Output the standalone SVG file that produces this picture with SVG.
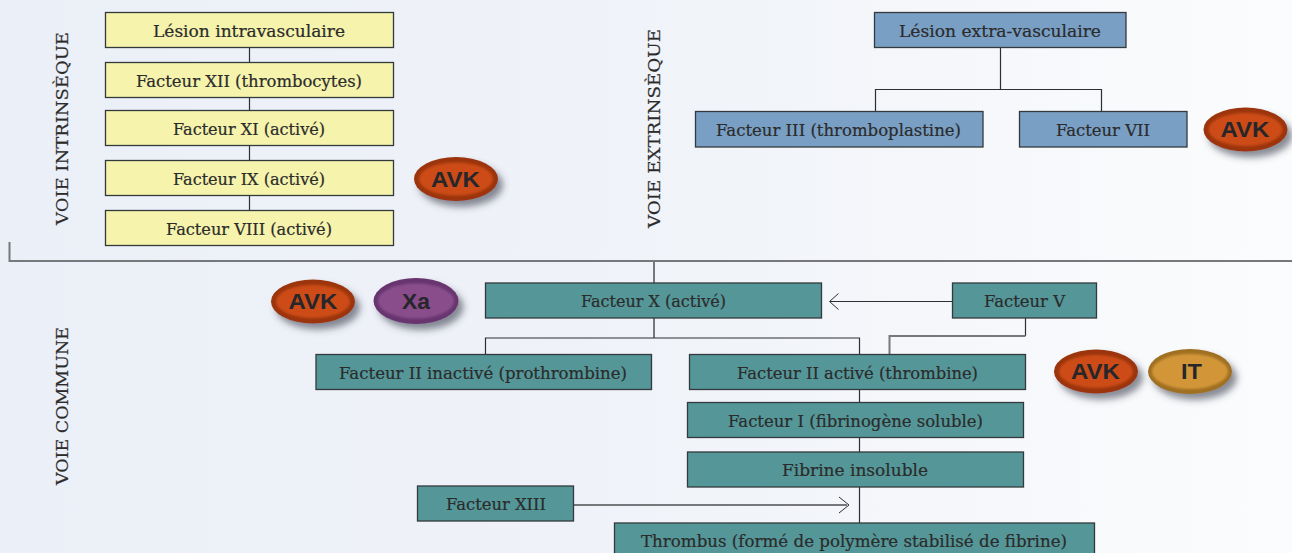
<svg xmlns="http://www.w3.org/2000/svg" width="1292" height="553" viewBox="0 0 1292 553">
<style>
.t{font-family:"DejaVu Serif","Liberation Serif",serif;font-size:16px;fill:#2b2b2b;stroke:#2b2b2b;stroke-width:0.2;text-anchor:middle;dominant-baseline:central}
.v{font-size:17.5px}
.b{stroke:#33393c;stroke-width:1.3}
.y{fill:#f5f3ac}.u{fill:#799fc5}.g{fill:#559798}
.c{fill:none;stroke:#2d2f33;stroke-width:1.2}
.a{fill:none;stroke:#2d2f33;stroke-width:1}
.h{fill:none;stroke:#77787c;stroke-width:2}
.l{font-family:"Liberation Sans",sans-serif;font-weight:700;font-size:22px;fill:#26262b;text-anchor:middle;dominant-baseline:central}
</style>
<defs>
<linearGradient id="bg" x1="0" y1="0" x2="1" y2="0"><stop offset="0" stop-color="#ebeff7"/><stop offset="0.45" stop-color="#eff2f8"/><stop offset="1" stop-color="#fbfcfd"/></linearGradient>
<filter id="s" x="-30%" y="-30%" width="170%" height="190%"><feDropShadow dx="5" dy="6" stdDeviation="3.500" flood-color="#3a4250" flood-opacity="0.6"/></filter>
<filter id="f" x="-10%" y="-10%" width="120%" height="120%"><feGaussianBlur stdDeviation="1"/></filter>
</defs>
<rect width="1292" height="553" fill="url(#bg)"/>
<g id="connectors">
<path class="c" d="M249.500 47V210M1000.500 48V89.500M875.500 111V89.500H1101.500V111"/>
<path class="h" d="M9.500 242V261H1292"/>
<path class="h" d="M654 261V283M654 318V338"/>
<path class="c" d="M485.500 354V338H859.500V354"/>
<path class="c" d="M1025.500 318V336"/><path class="h" d="M1025.500 336H889.500V354"/>
<path class="c" d="M952 301.500H830"/><path class="a" d="M838.500 293.500L829.500 301.500L838.500 309.500"/>
<path class="c" d="M859.500 390V402M859.500 437V452M859.500 487V523"/>
<path class="h" d="M574 505H847"/><path class="a" d="M839 497L849 505L839 513"/>
</g>
<g id="label-intrinseque"><text class="t v" transform="translate(62 128.500) rotate(-90)" textLength="193" lengthAdjust="spacingAndGlyphs">VOIE INTRINSÈQUE</text></g>
<g id="label-extrinseque"><text class="t v" transform="translate(654 128.500) rotate(-90)" textLength="199" lengthAdjust="spacingAndGlyphs">VOIE EXTRINSÈQUE</text></g>
<g id="label-commune"><text class="t v" transform="translate(62 406) rotate(-90)" textLength="158" lengthAdjust="spacingAndGlyphs">VOIE COMMUNE</text></g>
<g id="n1"><rect class="b y" x="105.500" y="12.500" width="288" height="35"/><text class="t" x="249" y="31" textLength="192" lengthAdjust="spacingAndGlyphs">Lésion intravasculaire</text></g>
<g id="n2"><rect class="b y" x="105.500" y="62.500" width="288" height="35"/><text class="t" x="249" y="81" textLength="226" lengthAdjust="spacingAndGlyphs">Facteur XII (thrombocytes)</text></g>
<g id="n3"><rect class="b y" x="105.500" y="110.500" width="288" height="35"/><text class="t" x="249" y="129" textLength="152" lengthAdjust="spacingAndGlyphs">Facteur XI (activé)</text></g>
<g id="n4"><rect class="b y" x="105.500" y="160.500" width="288" height="35"/><text class="t" x="249" y="179" textLength="152" lengthAdjust="spacingAndGlyphs">Facteur IX (activé)</text></g>
<g id="n5"><rect class="b y" x="105.500" y="210.500" width="288" height="35"/><text class="t" x="249" y="229" textLength="166" lengthAdjust="spacingAndGlyphs">Facteur VIII (activé)</text></g>
<g id="n6"><rect class="b u" x="874.500" y="12.500" width="251.500" height="35"/><text class="t" x="1000" y="31" textLength="202" lengthAdjust="spacingAndGlyphs">Lésion extra-vasculaire</text></g>
<g id="n7"><rect class="b u" x="695.500" y="111.500" width="287.500" height="35.500"/><text class="t" x="838.500" y="130" textLength="245" lengthAdjust="spacingAndGlyphs">Facteur III (thromboplastine)</text></g>
<g id="n8"><rect class="b u" x="1019.500" y="111.500" width="167.500" height="35.500"/><text class="t" x="1103" y="130" textLength="94" lengthAdjust="spacingAndGlyphs">Facteur VII</text></g>
<g id="n9"><rect class="b g" x="485.500" y="283" width="336" height="35"/><text class="t" x="653.500" y="301" textLength="145" lengthAdjust="spacingAndGlyphs">Facteur X (activé)</text></g>
<g id="n10"><rect class="b g" x="952.500" y="283" width="144" height="35"/><text class="t" x="1024.500" y="301" textLength="81" lengthAdjust="spacingAndGlyphs">Facteur V</text></g>
<g id="n11"><rect class="b g" x="316" y="354.500" width="335.500" height="35"/><text class="t" x="483" y="373" textLength="288" lengthAdjust="spacingAndGlyphs">Facteur II inactivé (prothrombine)</text></g>
<g id="n12"><rect class="b g" x="689.500" y="354.500" width="336" height="35"/><text class="t" x="857.500" y="373" textLength="241" lengthAdjust="spacingAndGlyphs">Facteur II activé (thrombine)</text></g>
<g id="n13"><rect class="b g" x="687.500" y="402.500" width="336" height="35"/><text class="t" x="855.500" y="421" textLength="255" lengthAdjust="spacingAndGlyphs">Facteur I (fibrinogène soluble)</text></g>
<g id="n14"><rect class="b g" x="687.500" y="452" width="336" height="35"/><text class="t" x="855" y="470" textLength="146" lengthAdjust="spacingAndGlyphs">Fibrine insoluble</text></g>
<g id="n15"><rect class="b g" x="417.500" y="486" width="156" height="35"/><text class="t" x="496" y="504" textLength="100" lengthAdjust="spacingAndGlyphs">Facteur XIII</text></g>
<g id="n16"><rect class="b g" x="614.500" y="523" width="480" height="40"/><text class="t" x="854" y="541" textLength="426" lengthAdjust="spacingAndGlyphs">Thrombus (formé de polymère stabilisé de fibrine)</text></g>
<g id="avk1"><ellipse cx="456" cy="179" rx="42" ry="22" fill="#9c3507" filter="url(#s)"/><ellipse cx="456" cy="179" rx="37" ry="16.500" fill="#cc4c17" filter="url(#f)"/><text class="l" x="455.500" y="179" textLength="49" lengthAdjust="spacingAndGlyphs">AVK</text></g>
<g id="avk2"><ellipse cx="1245.500" cy="129.500" rx="42" ry="22" fill="#9c3507" filter="url(#s)"/><ellipse cx="1245.500" cy="129.500" rx="37" ry="16.500" fill="#cc4c17" filter="url(#f)"/><text class="l" x="1245" y="129.500" textLength="49" lengthAdjust="spacingAndGlyphs">AVK</text></g>
<g id="avk3"><ellipse cx="313" cy="301.500" rx="42" ry="22" fill="#9c3507" filter="url(#s)"/><ellipse cx="313" cy="301.500" rx="37" ry="16.500" fill="#cc4c17" filter="url(#f)"/><text class="l" x="313" y="301.500" textLength="49" lengthAdjust="spacingAndGlyphs">AVK</text></g>
<g id="xa"><ellipse cx="416" cy="301" rx="42.500" ry="23" fill="#67346f" filter="url(#s)"/><ellipse cx="416" cy="301" rx="38" ry="17.500" fill="#894d8c" filter="url(#f)"/><text class="l" x="416" y="301" textLength="28" lengthAdjust="spacingAndGlyphs">Xa</text></g>
<g id="avk4"><ellipse cx="1096" cy="371.500" rx="42" ry="22" fill="#9c3507" filter="url(#s)"/><ellipse cx="1096" cy="371.500" rx="37" ry="16.500" fill="#cc4c17" filter="url(#f)"/><text class="l" x="1095.500" y="371.500" textLength="49" lengthAdjust="spacingAndGlyphs">AVK</text></g>
<g id="it"><ellipse cx="1190" cy="371.500" rx="42" ry="22.500" fill="#a06f20" filter="url(#s)"/><ellipse cx="1190" cy="371.500" rx="38" ry="17.500" fill="#d29637" filter="url(#f)"/><text class="l" x="1191.500" y="371" textLength="21" lengthAdjust="spacingAndGlyphs">IT</text></g>
</svg>
